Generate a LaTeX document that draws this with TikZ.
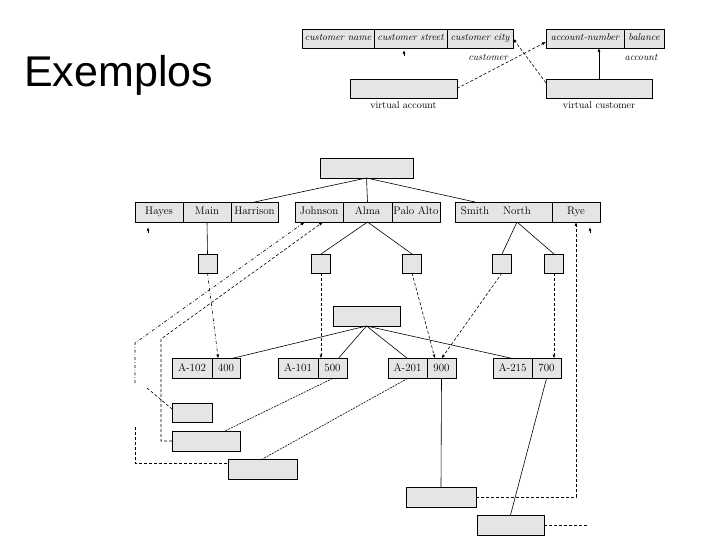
\documentclass[tikz,border=0pt]{standalone}
\usepackage{fontspec}
\newfontfamily\titlefont{Liberation Sans}
\usetikzlibrary{arrows.meta, positioning}

\begin{document}
\begin{tikzpicture}[
		x=1pt, y=-1pt,
		cell/.style={rectangle, draw, line width=0.6pt, fill=gray!20, inner sep=0pt, outer sep=0pt, minimum height=20pt, text height=7.5pt, text depth=2pt, text centered, font=\fontsize{11}{13}\selectfont},
		attr/.style={cell, minimum height=19pt, text height=7pt, text depth=2pt, font=\fontsize{10}{12}\selectfont\itshape},
		blank/.style={cell, minimum height=20pt},
		celltext/.style={inner sep=0pt, text height=7.5pt, text depth=2pt, font=\fontsize{11}{13}\selectfont},
		caption/.style={inner sep=0pt, font=\fontsize{10}{12}\selectfont},
		link/.style={line width=0.6pt},
		fine/.style={line width=0.6pt, dash pattern=on 2pt off 1pt},
		ptr/.style={-{Latex[length=4pt,width=3pt]}, line width=0.6pt, dash pattern=on 3pt off 2pt},
		back/.style={line width=0.6pt, dash pattern=on 3pt off 2pt},
		tipmark/.style={-{Latex[length=4pt,width=3pt]}, line width=0.6pt}
		]
		\useasboundingbox (0,0) rectangle (720,540);
		% Title
		\node[anchor=base west, inner sep=0pt, font=\titlefont\fontsize{43}{50}\selectfont] (title) at (24,87) {Exemplos};
		
		% Nodes: relations
		\node[attr, minimum width=72pt, anchor=west] (cname) at (302,38.5) {customer name};
		\node[attr, minimum width=73pt, right=0pt of cname] (cstreet) {customer street};
		\node[attr, minimum width=66pt, right=0pt of cstreet] (ccity) {customer city};
		\node[caption, font=\fontsize{10}{12}\selectfont\itshape] (custlbl) at (488,57) {customer};
		\node[attr, minimum width=78pt, anchor=west] (accnum) at (546,38.5) {account-number};
		\node[attr, minimum width=40pt, right=0pt of accnum] (bal) {balance};
		\node[caption, font=\fontsize{10}{12}\selectfont\itshape] (acclbl) at (641,57) {account};
		\node[blank, minimum width=107pt, minimum height=19pt] (vacc) at (403.5,88.5) {};
		\node[caption, below=3pt of vacc] (vacclbl) {virtual account};
		\node[blank, minimum width=106pt, minimum height=19pt] (vcust) at (599,88.5) {};
		\node[caption, below=3pt of vcust] (vcustlbl) {virtual customer};
		
		% Nodes: customer objects
		\node[blank, minimum width=93pt] (root) at (366.5,168) {};
		\node[cell, minimum width=48pt, anchor=west] (hayes) at (135,212) {Hayes};
		\node[cell, minimum width=48pt, right=0pt of hayes] (main) {Main};
		\node[cell, minimum width=47pt, right=0pt of main] (harrison) {Harrison};
		\node[cell, minimum width=48pt, anchor=west] (johnson) at (295,212) {Johnson};
		\node[cell, minimum width=49pt, right=0pt of johnson] (alma) {Alma};
		\node[cell, minimum width=48pt, right=0pt of alma] (paloalto) {Palo Alto};
		\node[cell, minimum width=97pt, anchor=west] (smithnorth) at (455,212) {};
		\node[cell, minimum width=48pt, right=0pt of smithnorth] (rye) {Rye};
		\node[celltext] (smith) at (475,212) {Smith};
		\node[celltext] (north) at (517,212) {North};
		\foreach \name/\x in {sqa/207.5, sqb/321, sqc/412, sqd/502, sqe/554}
			\node[blank, minimum width=19pt, minimum height=19pt] (\name) at (\x,263.5) {};
		
		% Nodes: account objects
		\node[blank, minimum width=67pt] (mid) at (366.5,316) {};
		\node[cell, minimum width=40pt, anchor=west] (a102) at (172,368.5) {A-102};
		\node[cell, minimum width=28pt, right=0pt of a102] (b400) {400};
		\node[cell, minimum width=40pt, anchor=west] (a101) at (278,368.5) {A-101};
		\node[cell, minimum width=29pt, right=0pt of a101] (b500) {500};
		\node[cell, minimum width=39pt, anchor=west] (a201) at (388,368.5) {A-201};
		\node[cell, minimum width=29pt, right=0pt of a201] (b900) {900};
		\node[cell, minimum width=39pt, anchor=west] (a215) at (493,368.5) {A-215};
		\node[cell, minimum width=29pt, right=0pt of a215] (b700) {700};
		\node[blank, minimum width=40pt, minimum height=19pt] (bxa) at (192,412.5) {};
		\node[blank, minimum width=68pt] (bxb) at (206,441) {};
		\node[blank, minimum width=69pt] (bxc) at (262.5,469) {};
		\node[blank, minimum width=70pt] (bxd) at (441,497) {};
		\node[blank, minimum width=67pt] (bxe) at (510.5,525) {};
		
		% Free ends
		\coordinate (lca) at (135,383);
		\coordinate (lcb) at (135,343);
		\coordinate (lcc) at (161,339);
		\coordinate (lcd) at (135,427);
		\coordinate (lce) at (147,388);
		\coordinate (bxeend) at (588,525);
		\coordinate (mka) at (148,233);
		\coordinate (mkb) at (590,233);
		\coordinate (mkc) at (404,56);
		
		% Arrows: relations
		\draw[tipmark] (vcust.north) -- (vcust.north |- accnum.south);
		\draw[ptr] (vacc.east) -- (accnum.185);
		\draw[ptr] (vcust.174) -- (ccity.east);
		\draw[tipmark] (mkc) -- ++(0,-6);
		
		% Arrows: tree
		\draw[link] (root.south) -- (harrison.north);
		\draw[link] (root.south) -- (alma.north);
		\draw[link] (root.south) -- (smith |- smithnorth.north);
		\draw[link] (main.south) -- (sqa.north);
		\draw[link] (alma.south) -- (sqb.north);
		\draw[link] (alma.south) -- (sqc.north);
		\draw[link] (north |- smithnorth.south) -- (sqd.north);
		\draw[link] (north |- smithnorth.south) -- (sqe.north);
		\draw[link] (mid.south) -- (b400.60);
		\draw[link] (mid.south) -- (b500.60);
		\draw[link] (mid.south) -- (a201.north);
		\draw[link] (mid.south) -- (a215.north);
		\draw[fine] (b500.south) -- (bxb.28);
		\draw[fine] (a201.south) -- (bxc.north);
		\draw[link] (b900.south) -- (bxd.north);
		\draw[link] (b700.south) -- (bxe.north);
		
		% Arrows: pointers
		\draw[ptr, dash dot] (sqa.south) -- (b400.128);
		\draw[ptr] (sqb.south) -- (sqb.south |- b500.north);
		\draw[ptr] (sqc.south) -- (b900.123);
		\draw[ptr] (sqd.south) -- (b900.north);
		\draw[ptr] (sqe.south) -- (sqe.south |- b700.north);
		\draw[ptr] (bxd.east) -| (rye.south);
		\draw[back] (bxe.east) -- (bxeend);
		\draw[ptr, dash dot] (lca) -- (lcb) -- (johnson.215);
		\draw[ptr] (bxb.west) -| (lcc) -- (johnson.292);
		\draw[back] (lcd) |- (bxc.170);
		\draw[back] (lce) -- (bxa.170);
		\draw[tipmark] (mka) -- ++(0,-6);
		\draw[tipmark] (mkb) -- ++(0,-6);
	\end{tikzpicture}
\end{document}
